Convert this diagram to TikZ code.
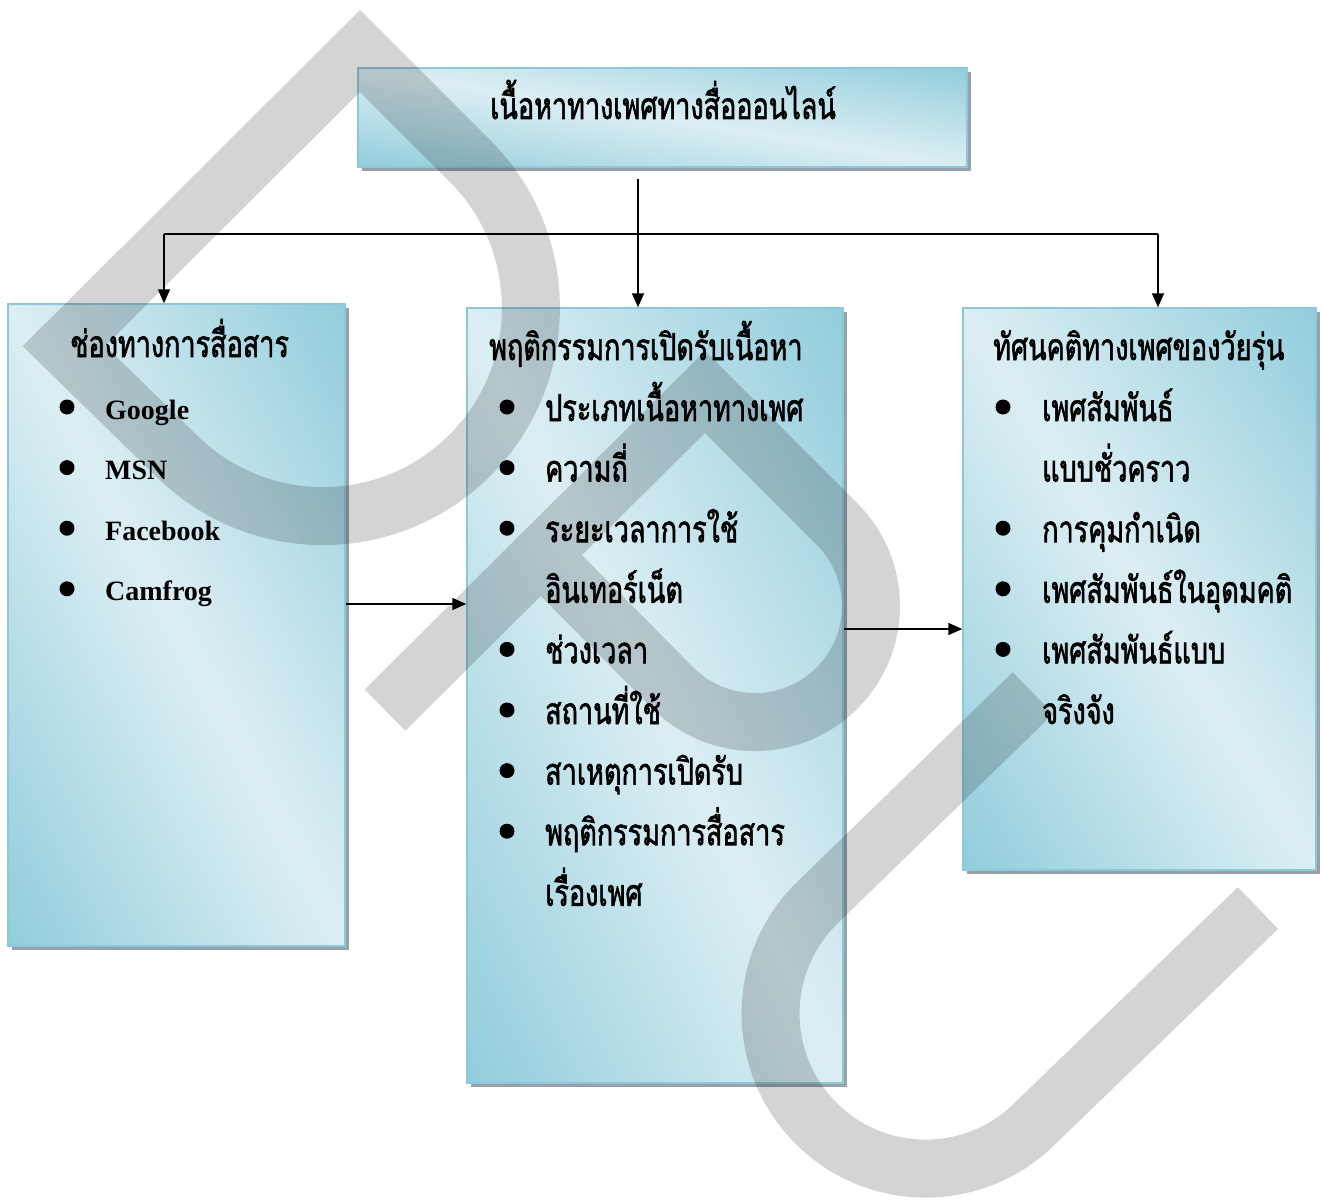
\documentclass[tikz,border=0pt]{standalone}
\usepackage{fontspec}
\newfontfamily\thai[Script=Thai,FakeStretch=0.73,FakeBold=1.6]{Loma}
\newfontfamily\lat{Liberation Serif}
\usetikzlibrary{arrows.meta,shadows}
\definecolor{bline}{RGB}{140,200,218}
\definecolor{shd}{RGB}{150,162,168}
\pgfdeclarefunctionalshading{boxfn}{\pgfpointorigin}{\pgfpoint{100bp}{100bp}}{}{%
  add 50 sub 50 div 1 sub abs dup 1.15 exp add 0.5 mul
  dup -0.290 mul 0.859 add exch
  dup -0.131 mul 0.933 add exch
  -0.092 mul 0.953 add
}
\tikzset{
  box/.style={draw=bline, line width=1.5pt, inner sep=0pt,
    shading=boxfn,
    general shadow={fill=shd, shadow xshift=4pt, shadow yshift=-4pt}},
  thaitxt/.style={font=\thai\fontsize{37}{44}\selectfont, anchor=base west, inner sep=0pt},
  lattxt/.style={font=\lat\bfseries\fontsize{28}{34}\selectfont, anchor=base west, inner sep=0pt},
  bul/.style={circle, fill=black, inner sep=0pt, minimum size=15pt},
  conn/.style={line width=1.6pt, -{Triangle[length=14pt,width=12pt]}},
  plain/.style={line width=1.6pt},
  wm/.style={line width=58pt, draw=black, draw opacity=0.17, line join=miter}
}
\begin{document}
\begin{tikzpicture}[x=1pt,y=-1pt]
\useasboundingbox (0,0) rectangle (1324,1201);
% boxes
\node[box, minimum width=609pt, minimum height=99pt] (top) at (662.5,117.5) {};
\node[box, minimum width=337pt, minimum height=642pt] (left) at (176.5,625) {};
\node[box, minimum width=376pt, minimum height=775pt] (mid) at (655,695.5) {};
\node[box, minimum width=353pt, minimum height=562pt] (right) at (1139.5,589) {};
% connectors
\coordinate (tbot) at (638,179);
\coordinate (hl) at (164,234);
\coordinate (hr) at (1158,234);
\coordinate (ya) at (0,604);
\coordinate (yb) at (0,629);
\draw[conn] (tbot) -- (tbot |- mid.north);
\draw[plain] (hl) -- (hr);
\draw[conn] (hl) -- (hl |- left.north);
\draw[conn] (hr) -- (hr |- right.north);
\draw[conn] (left.east |- ya) -- (mid.west |- ya);
\draw[conn] (mid.east |- yb) -- (right.west |- yb);
% title & headings
\node[thaitxt, anchor=base] (title) at (663,119) {เนื้อหาทางเพศทางสื่อออนไลน์};
\node[thaitxt] (lh) at (70,357) {ช่องทางการสื่อสาร};
\node[thaitxt] (mh) at (489,360) {พฤติกรรมการเปิดรับเนื้อหา};
\node[thaitxt] (rh) at (993,360) {ทัศนคติทางเพศของวัยรุ่น};
% left items
\node[bul] (lb1) at (67,407) {};
\node[bul] (lb2) at (67,467.6) {};
\node[bul] (lb3) at (67,528.2) {};
\node[bul] (lb4) at (67,588.8) {};
\node[lattxt] (l1) at (105,419) {Google};
\node[lattxt] (l2) at (105,479.6) {MSN};
\node[lattxt] (l3) at (105,540.2) {Facebook};
\node[lattxt] (l4) at (105,600.8) {Camfrog};
% middle items
\node[bul] (mb1) at (507,407) {};
\node[bul] (mb2) at (507,467.6) {};
\node[bul] (mb3) at (507,528.2) {};
\node[bul] (mb5) at (507,649.4) {};
\node[bul] (mb6) at (507,710) {};
\node[bul] (mb7) at (507,770.6) {};
\node[bul] (mb8) at (507,831.2) {};
\node[thaitxt] (m1) at (545,421) {ประเภทเนื้อหาทางเพศ};
\node[thaitxt] (m2) at (545,481.6) {ความถี่};
\node[thaitxt] (m3) at (545,542.2) {ระยะเวลาการใช้};
\node[thaitxt] (m4) at (545,602.8) {อินเทอร์เน็ต};
\node[thaitxt] (m5) at (545,663.4) {ช่วงเวลา};
\node[thaitxt] (m6) at (545,724) {สถานที่ใช้};
\node[thaitxt] (m7) at (545,784.6) {สาเหตุการเปิดรับ};
\node[thaitxt] (m8) at (545,845.2) {พฤติกรรมการสื่อสาร};
\node[thaitxt] (m9) at (545,905.8) {เรื่องเพศ};
% right items
\node[bul] (rb1) at (1003,407) {};
\node[bul] (rb3) at (1003,528.2) {};
\node[bul] (rb4) at (1003,588.8) {};
\node[bul] (rb5) at (1003,649.4) {};
\node[thaitxt] (r1) at (1042,421) {เพศสัมพันธ์};
\node[thaitxt] (r2) at (1042,481.6) {แบบชั่วคราว};
\node[thaitxt] (r3) at (1042,542.2) {การคุมกำเนิด};
\node[thaitxt] (r4) at (1042,602.8) {เพศสัมพันธ์ในอุดมคติ};
\node[thaitxt] (r5) at (1042,663.4) {เพศสัมพันธ์แบบ};
\node[thaitxt] (r6) at (1042,724) {จริงจัง};
% watermark
\draw[wm] (64,346) -- (360,51) -- (470,161) arc[start angle=-45, end angle=135, radius=208] -- cycle;
\draw[wm] (385,710) -- (705,392) -- (837,524) arc[start angle=-45, end angle=135, radius=116] -- (543,557);
\draw[wm] (1033,693) -- (816,904) arc[start angle=225, end angle=45, radius=155] -- (1258,908);
\end{tikzpicture}
\end{document}
